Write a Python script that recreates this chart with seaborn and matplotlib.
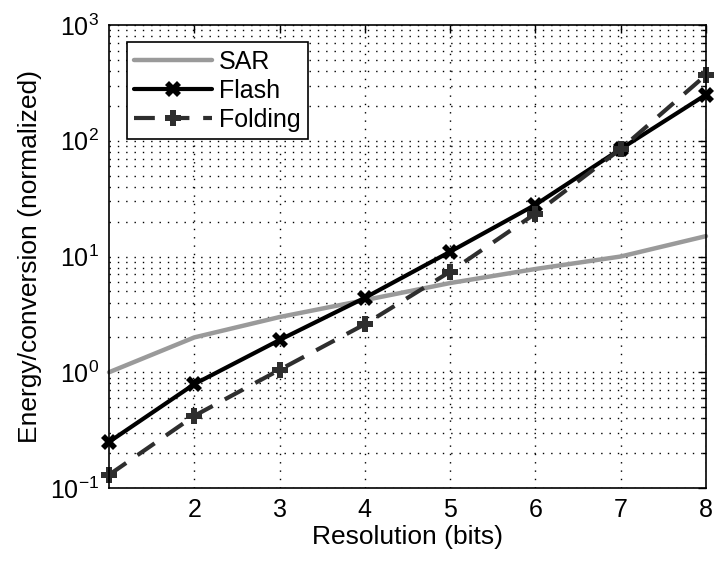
import numpy as np
import pandas as pd
import seaborn as sns
import matplotlib.pyplot as plt

bits = [1, 2, 3, 4, 5, 6, 7, 8]
sar = [1.0, 2.0, 3.0, 4.2, 5.9, 7.8, 10.0, 15.0]
flash = [0.25, 0.79, 1.9, 4.4, 11.0, 28.0, 85.0, 250.0]
folding = [0.13, 0.42, 1.05, 2.6, 7.4, 23.5, 85.0, 370.0]

sns.set_style("white", {'text.color': 'black', 'axes.labelcolor': 'black',
                        'xtick.color': 'black', 'ytick.color': 'black'})
plt.rcParams['font.family'] = ['Liberation Sans', 'DejaVu Sans']
plt.rcParams['mathtext.fontset'] = 'custom'
plt.rcParams['mathtext.rm'] = 'Liberation Sans'

fig = plt.figure(figsize=(7.14, 5.63), dpi=100)
ax = fig.add_axes([0.1527, 0.1332, 0.8361, 0.8224])

df = pd.DataFrame({'bits': bits, 'SAR': sar, 'Flash': flash, 'Folding': folding})

sns.lineplot(data=df, x='bits', y='SAR', ax=ax, color='#9a9a9a', lw=3.2,
             label='SAR', clip_on=False)
sns.lineplot(data=df, x='bits', y='Flash', ax=ax, color='black', lw=3,
             marker='X', markersize=11, markeredgewidth=0, label='Flash',
             clip_on=False)
sns.lineplot(data=df, x='bits', y='Folding', ax=ax, color='#2e2e2e', lw=3,
             linestyle=(0, (5, 3.3)), marker='P', markersize=12,
             markeredgewidth=0, label='Folding', clip_on=False)

ax.set_yscale('log')
ax.set_xlim(1, 8)
ax.set_ylim(0.1, 1000)
ax.set_xticks([2, 3, 4, 5, 6, 7, 8])
ax.set_yticks([0.1, 1, 10, 100, 1000])
ax.set_yticklabels([r'$10^{-1}$', r'$10^{0}$', r'$10^{1}$', r'$10^{2}$', r'$10^{3}$'])

ax.grid(True, which='both', axis='y', color='black', linestyle=(0, (1, 5)), lw=1.0)
ax.grid(True, which='major', axis='x', color='black', linestyle=(0, (1, 5)), lw=1.0)

ax.tick_params(which='both', direction='in', top=True, right=True, labelsize=18,
               width=1, pad=7, colors='black')
ax.tick_params(which='major', length=6)
ax.tick_params(which='minor', length=3)
ax.tick_params(axis='x', which='minor', bottom=False, top=False)
for s in ax.spines.values():
    s.set_color('black')
    s.set_linewidth(1.2)

ax.set_xlabel('Resolution (bits)', fontsize=19, labelpad=2, color='black')
ax.set_ylabel('Energy/conversion (normalized)', fontsize=19, labelpad=6, color='black')

leg = ax.legend(loc='upper left', fontsize=18, frameon=True, fancybox=False,
                edgecolor='black', framealpha=1, handlelength=3.1,
                handletextpad=0.3, borderpad=0.3, labelspacing=0.2,
                borderaxespad=0.7)
leg.get_frame().set_linewidth(1.2)
for t in leg.get_texts():
    t.set_color('black')

fig.savefig('out.png', dpi=100)
